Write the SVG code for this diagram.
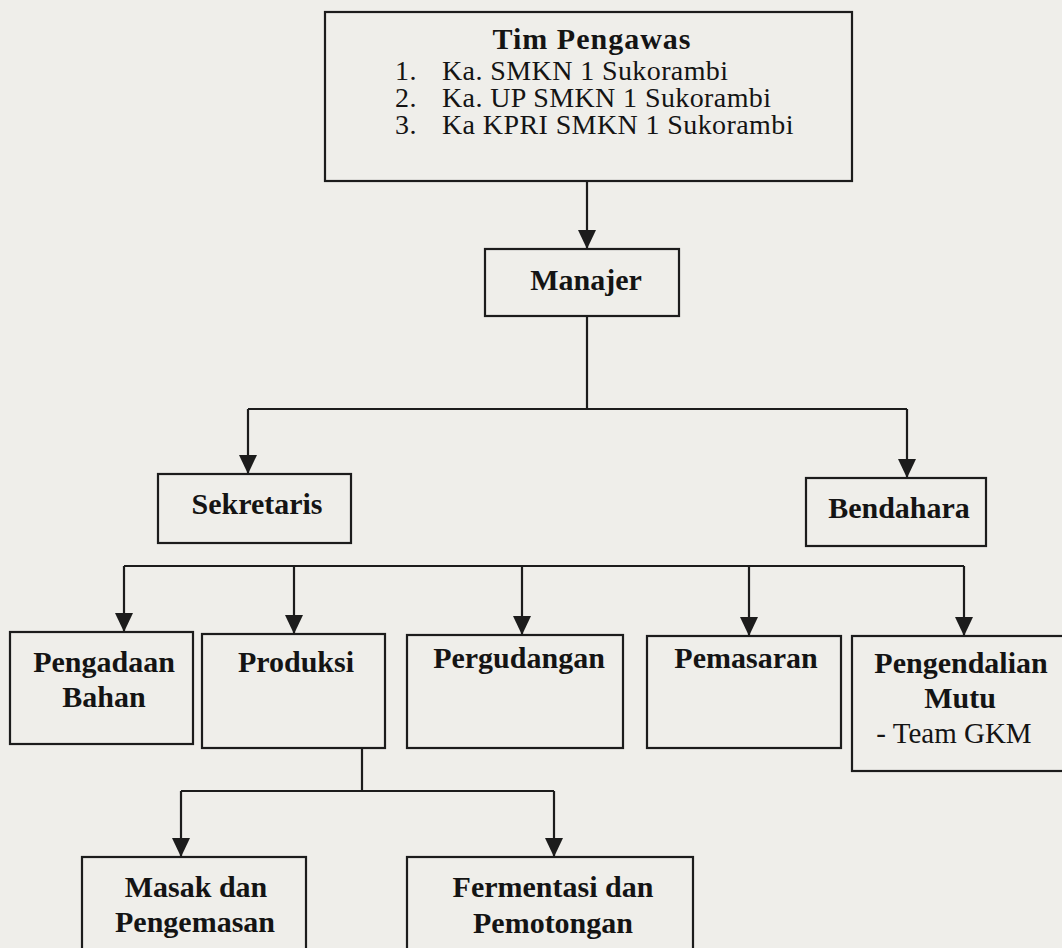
<svg xmlns="http://www.w3.org/2000/svg" width="1062" height="948" viewBox="0 0 1062 948">
  <style>
    .box { fill: none; stroke: #1c1c1c; stroke-width: 2.2; }
    .conn { fill: none; stroke: #1c1c1c; stroke-width: 2.2; }
    .b { font-family: "Liberation Serif", "Times New Roman", serif; font-weight: bold; font-size: 30px; fill: #141414; text-anchor: middle; }
    .r { font-family: "Liberation Serif", "Times New Roman", serif; font-size: 29px; fill: #141414; }
    .li { font-family: "Liberation Serif", "Times New Roman", serif; font-size: 28px; letter-spacing: 0.4px; fill: #141414; }
  </style>
  <defs>
    <marker id="arrow" markerUnits="userSpaceOnUse" markerWidth="20" markerHeight="20" viewBox="0 0 20 20" refX="19" refY="10" orient="auto">
      <path d="M0,1 L19,10 L0,19 Z" fill="#1c1c1c"/>
    </marker>
  </defs>
  <rect x="0" y="0" width="1062" height="948" fill="#efeeea"/>

  <g id="connectors">
    <line class="conn" x1="587" y1="181" x2="587" y2="249" marker-end="url(#arrow)"/>
    <polyline class="conn" points="587,316 587,409"/>
    <polyline class="conn" points="248,409 907,409"/>
    <line class="conn" x1="248" y1="409" x2="248" y2="474" marker-end="url(#arrow)"/>
    <line class="conn" x1="907" y1="409" x2="907" y2="478" marker-end="url(#arrow)"/>
    <polyline class="conn" points="124,566 964,566"/>
    <line class="conn" x1="124" y1="566" x2="124" y2="632" marker-end="url(#arrow)"/>
    <line class="conn" x1="294" y1="566" x2="294" y2="634" marker-end="url(#arrow)"/>
    <line class="conn" x1="522" y1="566" x2="522" y2="635" marker-end="url(#arrow)"/>
    <line class="conn" x1="749" y1="566" x2="749" y2="636" marker-end="url(#arrow)"/>
    <line class="conn" x1="964" y1="566" x2="964" y2="636" marker-end="url(#arrow)"/>
    <polyline class="conn" points="362,748 362,791"/>
    <polyline class="conn" points="181,791 554,791"/>
    <line class="conn" x1="181" y1="791" x2="181" y2="857" marker-end="url(#arrow)"/>
    <line class="conn" x1="554" y1="791" x2="554" y2="857" marker-end="url(#arrow)"/>
  </g>

  <g id="tim-pengawas">
    <rect class="box" x="325" y="12" width="527" height="169"/>
    <text class="b" x="592" y="49" style="letter-spacing:1px">Tim Pengawas</text>
    <text class="li" x="395" y="80">1.</text>
    <text class="li" x="442" y="80">Ka. SMKN 1 Sukorambi</text>
    <text class="li" x="395" y="107">2.</text>
    <text class="li" x="442" y="107">Ka. UP SMKN 1 Sukorambi</text>
    <text class="li" x="395" y="134">3.</text>
    <text class="li" x="442" y="134">Ka KPRI SMKN 1 Sukorambi</text>
  </g>

  <g id="manajer">
    <rect class="box" x="485" y="249" width="194" height="67"/>
    <text class="b" x="586" y="290">Manajer</text>
  </g>

  <g id="sekretaris">
    <rect class="box" x="158" y="474" width="193" height="69"/>
    <text class="b" x="257" y="514">Sekretaris</text>
  </g>

  <g id="bendahara">
    <rect class="box" x="806" y="478" width="180" height="68"/>
    <text class="b" x="899" y="518">Bendahara</text>
  </g>

  <g id="pengadaan-bahan">
    <rect class="box" x="10" y="632" width="183" height="112"/>
    <text class="b" x="104" y="672">Pengadaan</text>
    <text class="b" x="104" y="707">Bahan</text>
  </g>

  <g id="produksi">
    <rect class="box" x="202" y="634" width="183" height="114"/>
    <text class="b" x="296" y="672">Produksi</text>
  </g>

  <g id="pergudangan">
    <rect class="box" x="407" y="635" width="216" height="113"/>
    <text class="b" x="519" y="668">Pergudangan</text>
  </g>

  <g id="pemasaran">
    <rect class="box" x="647" y="636" width="194" height="112"/>
    <text class="b" x="746" y="668">Pemasaran</text>
  </g>

  <g id="pengendalian-mutu">
    <rect class="box" x="852" y="636" width="220" height="135"/>
    <text class="b" x="961" y="673">Pengendalian</text>
    <text class="b" x="960" y="708">Mutu</text>
    <text class="r" x="954" y="743" text-anchor="middle">- Team GKM</text>
  </g>

  <g id="masak-pengemasan">
    <rect class="box" x="82" y="857" width="224" height="110"/>
    <text class="b" x="196" y="897">Masak dan</text>
    <text class="b" x="195" y="932">Pengemasan</text>
  </g>

  <g id="fermentasi-pemotongan">
    <rect class="box" x="407" y="857" width="286" height="110"/>
    <text class="b" x="553" y="897">Fermentasi dan</text>
    <text class="b" x="553" y="933">Pemotongan</text>
  </g>
</svg>
